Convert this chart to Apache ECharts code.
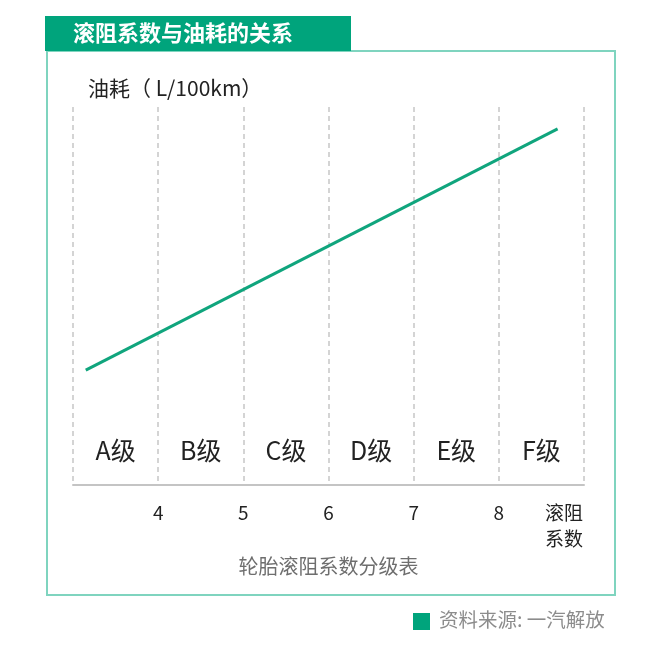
<!DOCTYPE html>
<html>
<head>
<meta charset="utf-8">
<script src="https://cdn.jsdelivr.net/npm/echarts@6/dist/echarts.min.js"></script>
<style>
html, body { margin: 0; background: #fff; }
#chart { width: 669px; height: 667px; }
</style>
</head>
<body>
<div id="chart"></div>
<script>
// grades between the tick lines
const grades = ['A级', 'B级', 'C级', 'D级', 'E级', 'F级'];
// rolling resistance coefficient ticks and their labels
const tickValues = [3, 4, 5, 6, 7, 8, 9];
const tickLabels = ['', '4', '5', '6', '7', '8', '滚阻系数'];
// the line: coefficient vs fuel use (no scale shown, relative units)
const coefValues = [3.15, 8.69];
const fuelValues = [30.4, 94.2];

const GREEN = '#00a47c';
const FONT = 'Noto Sans CJK SC';

function tickLabel(v) {
    let i = tickValues.indexOf(v);
    if (i < 0) return '';
    let t = tickLabels[i];
    if (t.length > 2) {
        // last one sits left of its tick, two lines
        return '{n|' + t.slice(0, 2) + '}\n{n|' + t.slice(2) + '}';
    }
    return t;
}

let chart = echarts.init(document.getElementById('chart'), null, { renderer: 'canvas' });

let option = {
    backgroundColor: '#fff',
    animation: false,
    textStyle: { fontFamily: FONT },
    grid: { left: 73, right: 85, top: 107, bottom: 182 },
    graphic: [
        {
            type: 'rect',
            shape: { x: 47, y: 51, width: 568, height: 544 },
            style: { fill: 'none', stroke: '#7fd4bf', lineWidth: 2 }
        },
        {
            type: 'rect',
            shape: { x: 45, y: 16, width: 306, height: 35 },
            style: { fill: GREEN }
        },
        {
            type: 'text',
            left: 73, top: 22,
            style: { text: '滚阻系数与油耗的关系', fill: '#fff', font: 'bold 22px "Noto Sans CJK SC"' }
        },
        {
            type: 'rect',
            shape: { x: 413, y: 613, width: 17, height: 17 },
            style: { fill: GREEN }
        },
        {
            type: 'text',
            left: 439, top: 610,
            style: { text: '资料来源: 一汽解放', fill: '#8c8c8c', font: '19.5px "Noto Sans CJK SC"' }
        }
    ],
    xAxis: [
        {
            type: 'value',
            min: 3, max: 9, interval: 1,
            name: '轮胎滚阻系数分级表',
            nameLocation: 'middle',
            nameGap: 66,
            nameTextStyle: { color: '#6e6e6e', fontSize: 20, fontFamily: FONT },
            axisLine: { show: true, lineStyle: { color: '#c4c4c4', width: 2 } },
            axisTick: { show: false },
            splitLine: { show: true, lineStyle: { color: '#c6c6c6', width: 1.5, type: [5, 4] } },
            axisLabel: {
                margin: 15,
                color: '#222',
                fontSize: 19,
                lineHeight: 26,
                fontFamily: FONT,
                formatter: tickLabel,
                rich: {
                    n: { fontSize: 19, lineHeight: 26, color: '#222', fontFamily: FONT, padding: [0, 40, 0, 0] }
                }
            }
        },
        {
            type: 'category',
            data: grades,
            position: 'bottom',
            boundaryGap: true,
            axisLine: { show: false },
            axisTick: { show: false },
            splitLine: { show: false },
            axisLabel: { inside: true, margin: 22, color: '#222', fontSize: 25, fontFamily: FONT }
        }
    ],
    yAxis: {
        type: 'value',
        min: 0, max: 100,
        name: '油耗（ L/100km）',
        nameLocation: 'end',
        nameGap: 19,
        nameTextStyle: { color: '#222', fontSize: 21, fontFamily: FONT, align: 'left', verticalAlign: 'middle', padding: [0, 0, 0, 15] },
        axisLine: { show: false },
        axisTick: { show: false },
        axisLabel: { show: false },
        splitLine: { show: false }
    },
    series: [{
        type: 'line',
        xAxisIndex: 0,
        data: coefValues.map((c, i) => [c, fuelValues[i]]),
        symbol: 'none',
        lineStyle: { color: '#10a57d', width: 3 }
    }]
};
chart.setOption(option);
</script>
</body>
</html>
